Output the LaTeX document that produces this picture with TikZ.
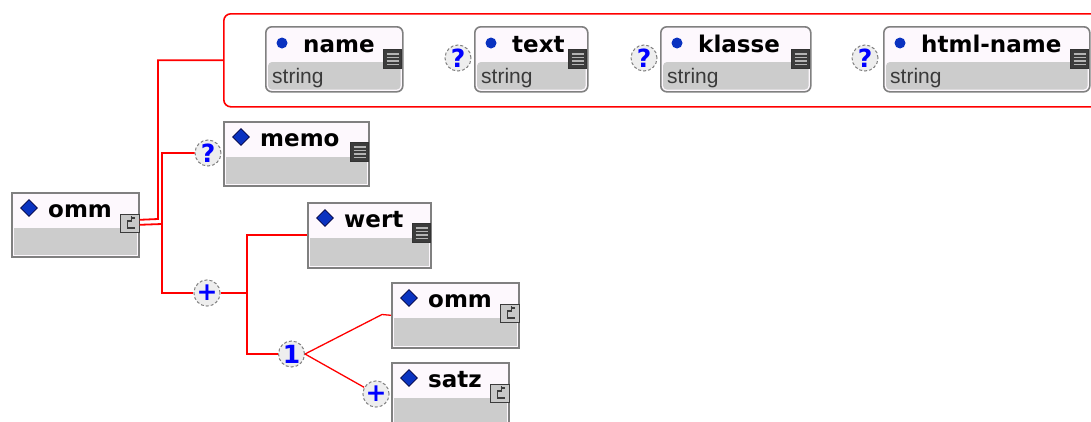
\documentclass[tikz,border=0pt]{standalone}
\usepackage{fontspec}
\setmainfont{DejaVu Sans}
\newfontfamily\strfont{Liberation Sans}
\usetikzlibrary{shapes.geometric,calc}
\definecolor{conred}{HTML}{FF0000}
\definecolor{boxline}{HTML}{808080}
\definecolor{boxtop}{HTML}{FDF8FD}
\definecolor{boxsec}{HTML}{CCCCCC}
\definecolor{icdark}{HTML}{3C3C3C}
\definecolor{iclight}{HTML}{C8C8C8}
\definecolor{iclines}{HTML}{B4B4B4}
\definecolor{markblue}{HTML}{0A32C0}
\definecolor{circfill}{HTML}{EEEEEE}
\definecolor{strcol}{HTML}{3A3A3A}
\tikzset{
  ebox/.style={rectangle, draw=boxline, line width=1.6pt, fill=boxtop, inner sep=0, anchor=north west},
  abox/.style={ebox, rounded corners=6pt},
  lbl/.style={font=\bfseries\fontsize{23}{23}\selectfont, inner sep=0, anchor=base west},
  strlbl/.style={font=\strfont\fontsize{21}{21}\selectfont, text=strcol, inner sep=0, anchor=base west},
  diam/.style={diamond, fill=markblue, draw=black!75!blue, line width=0.6pt, minimum width=17pt, minimum height=17pt, inner sep=0},
  dotmark/.style={circle, fill=markblue, minimum size=11pt, inner sep=0},
  circ/.style={circle, minimum size=26pt, inner sep=0, fill=circfill, draw=gray, densely dashed, line width=1pt, text=blue, font=\bfseries\fontsize{25}{25}\selectfont},
  conn/.style={draw=conred, line width=1.8pt},
  diag/.style={draw=conred, line width=1.3pt},
  grp/.style={draw=conred, line width=1.6pt, rounded corners=7pt, inner sep=0, anchor=north west},
  icsimple/.style={rectangle, minimum width=18pt, minimum height=19pt, inner sep=0, fill=icdark, draw=black!80, line width=0.8pt,
    path picture={\foreach \yy in {4.5,8,11.5,15} {\draw[line width=1.3pt, iclines] ($(path picture bounding box.north west)+(3pt,-\yy pt)$) -- ($(path picture bounding box.north east)+(-3pt,-\yy pt)$);}}},
  icext/.style={rectangle, minimum width=19pt, minimum height=18pt, inner sep=0, fill=iclight, draw=icdark, line width=1pt,
    path picture={\draw[line width=1.4pt, icdark] ($(path picture bounding box.center)+(5pt,5pt)$) -- ++(-3pt,0) -- ++(0,-3pt) -- ++(-4pt,0) -- ++(0,-7pt) -- ++(7pt,0);
      \draw[line width=1.4pt, icdark] ($(path picture bounding box.center)+(2pt,5pt)$) -- ++(0,2.5pt);}}
}
\newcommand\mkelem[7]{%
  \node[ebox, minimum width=#4pt, minimum height=#5pt] (#1) at (#2,#3) {};
  \fill[boxsec] ([shift={(3pt,3pt)}]#1.south west) rectangle ([shift={(-3pt,-36pt)}]#1.north east);
  \node[diam] (#1-d) at ([shift={(18pt,-16pt)}]#1.north west) {};
  \node[lbl] (#1-t) at ([shift={(37pt,-25pt)}]#1.north west) {#6};
  \node[#7] (#1-i) at ([shift={(-10pt,-31pt)}]#1.north east) {};
}
\newcommand\mkattr[6]{%
  \node[abox, minimum width=#4pt, minimum height=#5pt] (#1) at (#2,#3) {};
  \fill[boxsec, rounded corners=4pt] ([shift={(3pt,3pt)}]#1.south west) rectangle ([shift={(-3pt,-36pt)}]#1.north east);
  \node[dotmark] (#1-d) at ([shift={(17pt,-17pt)}]#1.north west) {};
  \node[lbl] (#1-t) at ([shift={(38pt,-26pt)}]#1.north west) {#6};
  \node[strlbl] (#1-s) at ([shift={(7pt,-57pt)}]#1.north west) {string};
  \node[icsimple] (#1-i) at ([shift={(-11pt,-33pt)}]#1.north east) {};
}
\begin{document}
\begin{tikzpicture}[x=1pt,y=-1pt]
\useasboundingbox[fill=white] (0,0) rectangle (1091,421);
\clip (0,0) rectangle (1091,421);
% attribute group
\node[grp, minimum width=890pt, minimum height=93pt] (attrgrp) at (223,13) {};
\mkattr{aname}{265}{26}{137}{65}{name}
\mkattr{atext}{474}{26}{113}{65}{text}
\mkattr{aklasse}{660}{26}{150}{65}{klasse}
\mkattr{ahtml}{883}{26}{206}{65}{html-name}
\node[circ] (qtext) at (458,58) {?};
\node[circ] (qklasse) at (644,58) {?};
\node[circ] (qhtml) at (865,58) {?};
% elements
\mkelem{omm}{11}{192}{127}{64}{omm}{icext}
\mkelem{memo}{223}{121}{145}{64}{memo}{icsimple}
\mkelem{wert}{307}{202}{123}{65}{wert}{icsimple}
\mkelem{ommb}{391}{282}{127}{65}{omm}{icext}
\mkelem{satz}{391}{362}{117}{64}{satz}{icext}
% compositors / occurrence marks
\node[circ] (qmemo) at (208,153) {?};
\node[circ] (pseq) at (207,293) {+};
\node[circ] (one) at (291.5,354) {1};
\node[circ] (psatz) at (376,394) {+};
% connectors
\coordinate (j0) at (158,219);
\coordinate (j1) at (162,224);
\coordinate (j2) at (247,293);
\coordinate (k1) at (382,314.5);
\draw[conn] ([yshift=5pt]omm.east) -- (j0) |- (attrgrp.west);
\draw[conn] (omm.east) -- (j1) |- (qmemo.west);
\draw[conn] (j1) |- (pseq.west);
\draw[conn] (pseq.east) -- (j2) |- (wert.west);
\draw[conn] (j2) |- (one.west);
\draw[diag] (one.east) -- (k1) -- (ommb.west);
\draw[diag] (one.east) -- (psatz);
\end{tikzpicture}
\end{document}
